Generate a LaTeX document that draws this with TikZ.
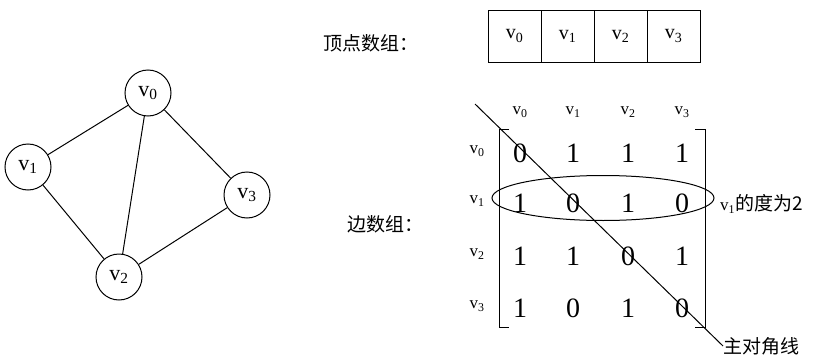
\documentclass[tikz,border=0pt]{standalone}
\usepackage{fontspec}
\usetikzlibrary{shapes.geometric}
\setmainfont{Liberation Serif}
\newfontfamily\cjk{Noto Sans CJK SC}
\newcommand\vv[1]{v\textsubscript{#1}}
\begin{document}
\begin{tikzpicture}[x=1pt,y=-1pt,
  vert/.style={circle,draw,line width=1pt,minimum size=46pt,inner sep=0pt,font=\fontsize{22}{22}\selectfont},
  cell/.style={draw,line width=1pt,minimum width=53pt,minimum height=52pt,inner sep=0pt,font=\fontsize{20}{20}\selectfont},
  lab/.style={font=\fontsize{17}{17}\selectfont,inner sep=0pt},
  num/.style={font=\fontsize{28}{28}\selectfont,inner sep=0pt},
  cn/.style={font=\cjk\fontsize{19}{19}\selectfont,inner sep=0pt},
  edge/.style={line width=1pt}]
\useasboundingbox (0,0) rectangle (822,356);
% graph
\node[vert] (g0) at (148,93) {\vv0};
\node[vert] (g1) at (28,167) {\vv1};
\node[vert] (g3) at (247,195) {\vv3};
\node[vert] (g2) at (119,277) {\vv2};
\draw[edge] (g0) -- (g1);
\draw[edge] (g0) -- (g2);
\draw[edge] (g0) -- (g3);
\draw[edge] (g1) -- (g2);
\draw[edge] (g3) -- (g2);
% vertex array
\node[cn,anchor=west] (ta) at (323,43) {顶点数组：};
\node[cell] (c0) at (514.5,36) {\vv0};
\node[cell] (c1) at (567.5,36) {\vv1};
\node[cell] (c2) at (620.5,36) {\vv2};
\node[cell] (c3) at (673.5,36) {\vv3};
% matrix
\node[cn,anchor=west] (tb) at (347,224) {边数组：};
\foreach \n/\x in {0/520,1/573,2/628,3/682} {
  \node[lab] (h\n) at (\x,112) {\vv\n};
}
\foreach \n/\y in {0/151,1/201,2/254,3/306} {
  \node[lab] (r\n) at (477,\y) {\vv\n};
}
\coordinate (lbt) at (499,129);
\coordinate (lbb) at (499,327);
\coordinate (rbt) at (705,129);
\coordinate (rbb) at (705,327);
\draw[line width=1pt] ([xshift=10pt]lbt) -- (lbt) -- (lbb) -- ([xshift=10pt]lbb);
\draw[line width=1pt] ([xshift=-10pt]rbt) -- (rbt) -- (rbb) -- ([xshift=-10pt]rbb);
\foreach \r/\y/\a/\b/\c/\d in {0/153/0/1/1/1,1/203/1/0/1/0,2/256/1/1/0/1,3/308/1/0/1/0} {
  \node[num] (m\r0) at (520,\y) {\a};
  \node[num] (m\r1) at (573,\y) {\b};
  \node[num] (m\r2) at (628,\y) {\c};
  \node[num] (m\r3) at (682,\y) {\d};
}
% ellipse around row v1
\node[draw,ellipse,line width=1pt,minimum width=222pt,minimum height=45pt,inner sep=0pt] (el) at (603,198) {};
\node[anchor=west,inner sep=0pt] (deg) at (720,204) {\fontsize{17}{17}\selectfont\vv1\cjk\fontsize{19}{19}\selectfont 的度为2};
% main diagonal
\coordinate (dstart) at (475,104);
\node[cn,anchor=west] (diag) at (723,346) {主对角线};
\draw[edge] (dstart) -- (diag.west);
\end{tikzpicture}
\end{document}
